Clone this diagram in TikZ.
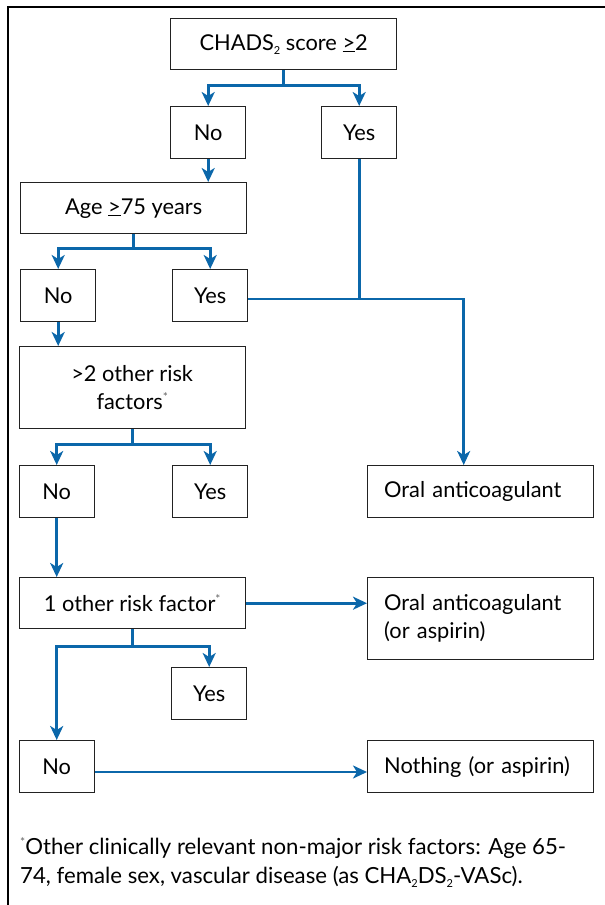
\documentclass[tikz,border=0pt]{standalone}
\usepackage{fontspec}
\setmainfont{Lato}
\usetikzlibrary{arrows.meta}
\definecolor{flowblue}{HTML}{0B67AA}
\definecolor{boxline}{HTML}{222222}
\newcommand{\geqmark}{\underline{>}}
\newcommand{\fnmark}{\raisebox{0.75ex}{\fontsize{12}{12}\selectfont\color{black!60}*}}
\newcommand{\lowtwo}{\raisebox{-0.35ex}{\fontsize{11}{11}\selectfont 2}}
\begin{document}
\begin{tikzpicture}[x=1pt,y=-1pt,
  box/.style={draw=boxline, line width=1.4pt, inner sep=0pt, align=center,
    anchor=north west, font=\fontsize{21.8}{28}\selectfont},
  smallbox/.style={box, minimum width=75pt, minimum height=52pt},
  widebox/.style={box, minimum width=226pt, minimum height=51pt},
  leftbox/.style={box, inner xsep=16.5pt, text width=193pt, align=left, minimum height=52pt},
  arr/.style={draw=flowblue, line width=2.6pt,
    -{Stealth[length=14pt, width=13pt, inset=4pt]}},
  plain/.style={draw=flowblue, line width=2.6pt},
  frame/.style={draw=black, line width=1.6pt}
]
\useasboundingbox (0,0) rectangle (605,905);
\draw[frame] (7.7,905) -- (7.7,7) -- (605,7);

% nodes
\node[widebox] (chads) at (170,18) {CHADS\lowtwo{} score \geqmark2};
\node[smallbox] (no1) at (170,106) {No};
\node[smallbox] (yes1) at (321,106) {Yes};
\node[widebox] (age) at (20,182) {Age \geqmark75 years};
\node[smallbox] (no2) at (20,269) {No};
\node[smallbox] (yes2) at (172,269) {Yes};
\node[box, minimum width=226pt, minimum height=82pt] (gt2) at (18.5,346)
  {>2 other risk\\factors\fnmark};
\node[smallbox] (no3) at (18.5,465) {No};
\node[smallbox] (yes3) at (172,465) {Yes};
\node[leftbox] (oa1) at (367,465) {Oral anticoagulant};
\node[widebox] (one) at (18.5,577) {1 other risk factor\fnmark};
\node[leftbox, minimum height=82pt] (oa2) at (367,577) {Oral anticoagulant\\(or aspirin)};
\node[smallbox] (yes4) at (171,667) {Yes};
\node[smallbox] (no4) at (18.5,740) {No};
\node[leftbox] (nothing) at (367,740) {Nothing (or aspirin)};

\node[anchor=north west, inner sep=0pt, align=left,
  font=\fontsize{22.2}{29}\selectfont] (note) at (20,837)
  {\fnmark Other clinically relevant non-major risk factors: Age 65-\\
   74, female sex, vascular disease (as CHA\lowtwo DS\lowtwo-VASc).};

% connectors
\coordinate (j) at (463.7,299);
\draw[arr] (chads.south) -- ++(0,15) -| (no1.north);
\draw[arr] (chads.south) -- ++(0,15) -| (yes1.north);
\draw[arr] (no1.south) -- (age.north -| no1.south);
\draw[arr] (age.south) -- ++(0,14) -| (no2.north);
\draw[arr] (age.south) -- ++(0,14) -| (yes2.north);
\draw[plain] (yes1.south) -- (yes1.south |- j);
\draw[arr] (yes2.east |- j) -- (j) -- (j |- oa1.north);
\draw[arr] (no2.south) -- (gt2.north -| no2.south);
\draw[arr] (gt2.south) -- ++(0,15) -| (no3.north);
\draw[arr] (gt2.south) -- ++(0,15) -| (yes3.north);
\draw[arr] (no3.south) -- (one.north -| no3.south);
\draw[arr] (one.east) -- (one.east -| oa2.west);
\draw[arr] (one.south) -- ++(0,17) -| (no4.north);
\draw[arr] (one.south) -- ++(0,17) -| (yes4.north);
\coordinate (k) at (0,772);
\draw[arr] (no4.east |- k) -- (nothing.west |- k);
\end{tikzpicture}
\end{document}
